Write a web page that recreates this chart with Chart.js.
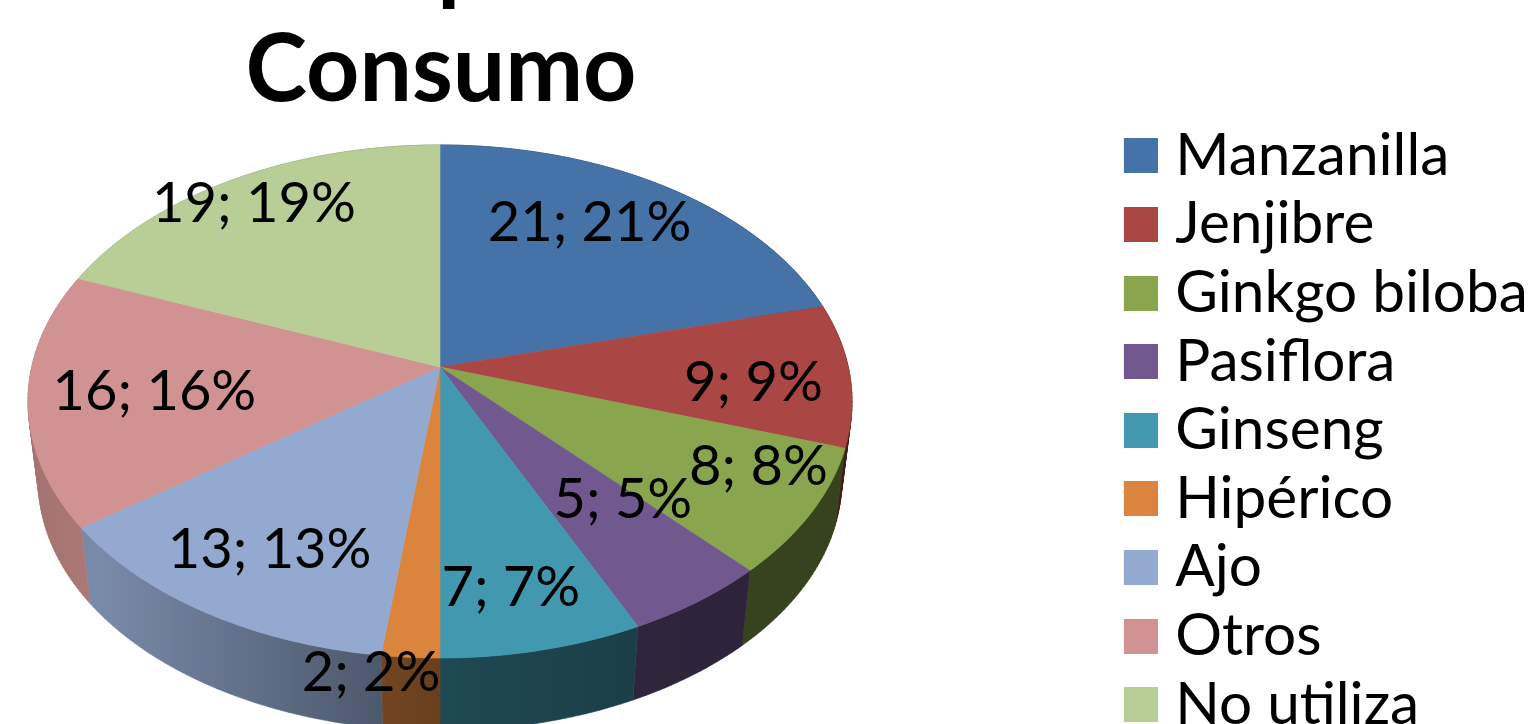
<!DOCTYPE html>
<html>
<head>
<meta charset="utf-8">
<title>Consumo</title>
<script src="https://cdn.jsdelivr.net/npm/chart.js@4/dist/chart.umd.js"></script>
<style>
  html, body { margin: 0; padding: 0; background: #fff; overflow: hidden; height: 724px; }
  canvas { display: block; filter: blur(0.5px); }
</style>
</head>
<body>
<canvas id="chart" width="1535" height="1000"></canvas>
<script>
const categories = ['Manzanilla', 'Jenjibre', 'Ginkgo biloba', 'Pasiflora', 'Ginseng', 'Hipérico', 'Ajo', 'Otros', 'No utiliza'];
const consumo = [21, 9, 8, 5, 7, 2, 13, 16, 19];
const colors = ['#4572A7', '#AA4643', '#89A54E', '#71588F', '#4198AF', '#DB843D', '#93A9CF', '#D19392', '#B9CD96'];

// tilted pie: perspective fitted to the picture (k = how much nearer the front edge is)
const view = { cx: 440, cy: 367, a: 408.3, b: 251.9, k: 0.1345, sink: 0.975, drop: 80 };
// how far along the radius each value label sits, and its nudge in px
const labelRadius = [0.62, 0.78, 0.82, 0.62, 0.72, 0.98, 0.68, 0.68, 0.72];
const labelNudge = [[4, -28], [-6, 10], [18, -18], [30, -6], [0, 25], [-40, 22], [-17, 23], [-7, 3], [-33, -24]];
// brightness of the side wall going left to right
const wallShade = [[0, 0.78], [0.08, 0.82], [0.43, 0.52], [0.5, 0.48], [0.75, 0.41], [1, 0.4]];

function project(angle, r, bottom) {
  const u = Math.cos(angle) * r, w = Math.sin(angle) * r;
  const d = 1 - view.k * w;
  const x = view.a * u / d, y = view.b * w / d;
  if (bottom) return [view.cx + x * view.sink, view.cy + view.drop + y * view.sink];
  return [view.cx + x, view.cy + y];
}

function shade(hex, f) {
  const n = parseInt(hex.slice(1), 16);
  return 'rgb(' + [(n >> 16) & 255, (n >> 8) & 255, n & 255].map(c => Math.round(c * f)).join(',') + ')';
}

function swatch(color) {
  const c = document.createElement('canvas');
  c.width = 36; c.height = 35;
  const g = c.getContext('2d');
  g.fillStyle = color;
  g.fillRect(0, 0, 36, 35);
  return c;
}

function rim(start, end, bottom) {
  const pts = [];
  const steps = Math.max(4, Math.ceil((end - start) * 60));
  for (let i = 0; i <= steps; i++) pts.push(project(start + (end - start) * i / steps, 1, bottom));
  return pts;
}

function addPoly(ctx, pts) {
  pts.forEach((p, i) => i ? ctx.lineTo(p[0], p[1]) : ctx.moveTo(p[0], p[1]));
  ctx.closePath();
}

function paint(ctx, style) {
  ctx.fillStyle = style;
  ctx.fill();
  ctx.strokeStyle = style;
  ctx.lineWidth = 0.6;
  ctx.stroke();
}

function area(pts) {
  let sum = 0;
  pts.forEach((p, i) => {
    const q = pts[(i + 1) % pts.length];
    sum += p[0] * q[1] - q[0] * p[1];
  });
  return sum;
}

const pie3d = {
  id: 'pie3d',
  afterLayout(chart) {
    // the title runs off the top of the page and sits over the pie, not the canvas
    const t = chart.titleBlock;
    t.left = 0; t.right = 882; t.top = -91;
    const l = chart.legend;
    l.left = 1123.9; l.top = 116.5;
  },
  beforeDatasetDraw(chart, args) {
    const ctx = chart.ctx;
    const arcs = args.meta.data;
    // walls first, the top faces then cover the hidden back part
    arcs.forEach((arc, i) => {
      const grad = ctx.createLinearGradient(view.cx - view.a, 0, view.cx + view.a, 0);
      wallShade.forEach(s => grad.addColorStop(s[0], shade(colors[i], s[1])));
      const top = rim(arc.startAngle, arc.endAngle, false);
      const low = rim(arc.startAngle, arc.endAngle, true);
      // all quads in one path, same winding, so no seams and the turning edge stays filled
      ctx.beginPath();
      for (let k = 0; k < top.length - 1; k++) {
        const quad = [top[k], top[k + 1], low[k + 1], low[k]];
        addPoly(ctx, area(quad) < 0 ? quad.reverse() : quad);
      }
      paint(ctx, grad);
    });
    arcs.forEach((arc, i) => {
      ctx.beginPath();
      addPoly(ctx, [project(0, 0, false)].concat(rim(arc.startAngle, arc.endAngle, false)));
      paint(ctx, colors[i]);
    });
    return false;
  },
  afterDraw(chart) {
    const ctx = chart.ctx;
    const total = consumo.reduce((a, b) => a + b, 0);
    ctx.save();
    ctx.font = '56px Lato';
    ctx.fillStyle = '#000';
    ctx.textAlign = 'center';
    ctx.textBaseline = 'middle';
    chart.getDatasetMeta(0).data.forEach((arc, i) => {
      const p = project((arc.startAngle + arc.endAngle) / 2, labelRadius[i], false);
      const pct = Math.round(consumo[i] / total * 100);
      ctx.fillText(consumo[i] + '; ' + pct + '%', p[0] + labelNudge[i][0], p[1] + labelNudge[i][1]);
    });
    ctx.restore();
  }
};

const canvas = document.getElementById('chart');
// keeps Lato from joining "ti" and "fl"
canvas.getContext('2d').textRendering = 'optimizeSpeed';

new Chart(canvas, {
  type: 'pie',
  data: {
    labels: categories,
    datasets: [{ data: consumo, backgroundColor: colors, borderWidth: 0 }]
  },
  plugins: [pie3d],
  options: {
    responsive: false,
    animation: false,
    plugins: {
      tooltip: { enabled: false },
      title: {
        display: true,
        text: ['  p', 'Consumo'],
        color: '#000',
        padding: 0,
        font: { family: 'Lato', size: 93, weight: 'bold', lineHeight: 1.161 }
      },
      legend: {
        position: 'right',
        align: 'start',
        labels: {
          color: '#000',
          font: { family: 'Lato', size: 58.5 },
          padding: 10.1,
          usePointStyle: true,
          pointStyleWidth: 12,
          boxHeight: 36,
          generateLabels: chart => chart.data.labels.map((text, i) => ({
            text, index: i, fillStyle: colors[i], pointStyle: swatch(colors[i]), lineWidth: 0, hidden: false
          }))
        }
      }
    }
  }
});
</script>
</body>
</html>
